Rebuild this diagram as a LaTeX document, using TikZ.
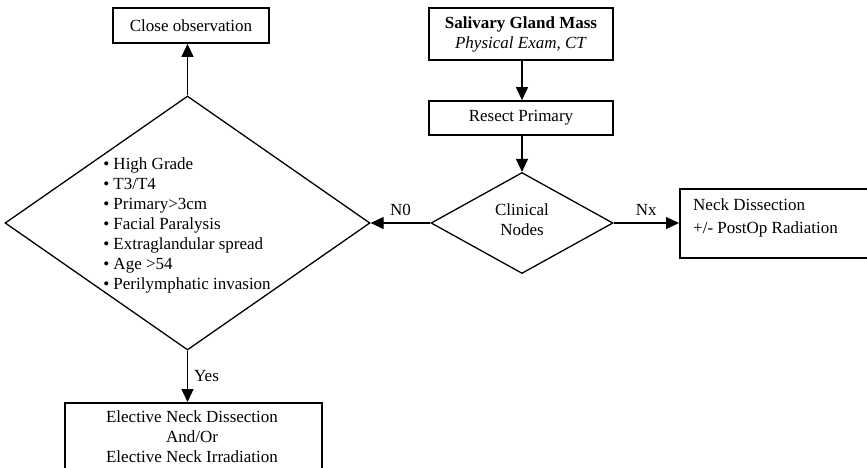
\documentclass[tikz,border=0pt]{standalone}
\usepackage{fontspec}
\setmainfont{Liberation Serif}
\usetikzlibrary{shapes.geometric,arrows.meta}
\begin{document}
\begin{tikzpicture}[x=1pt,y=-1pt,
  every node/.style={font=\fontsize{17}{20}\selectfont},
  box/.style={draw, line width=1.8pt, rectangle, inner sep=0pt, align=center},
  dia/.style={draw, line width=1.3pt, diamond, inner sep=0pt},
  arr/.style={line width=1.3pt, -{Triangle[length=13pt,width=12pt]}},
  lbl/.style={inner sep=0pt}]
\useasboundingbox (0,0) rectangle (867,467);
% boxes
\node[box, minimum width=156, minimum height=35] (close) at (191,25.5) {Close observation};
\node[box, minimum width=184, minimum height=52] (mass) at (521,34) {\textbf{Salivary Gland Mass}\\[0pt]\textit{Physical Exam, CT}};
\node[box, minimum width=184, minimum height=34] (resect) at (521,118) {Resect Primary};
\node[box, minimum width=200, minimum height=69, anchor=north west] (neck) at (679,188) {};
\node[lbl, anchor=west, align=left, font=\fontsize{17}{23}\selectfont] (necktxt) at (693,218) {Neck Dissection\\+/- PostOp Radiation};
\node[box, minimum width=257, minimum height=80, anchor=north west] (elect) at (64,402) {};
\node[lbl, align=center, anchor=north] (electtxt) at (192,410) {Elective Neck Dissection\\And/Or\\Elective Neck Irradiation};
% diamonds
\node[dia, minimum width=182, minimum height=101] (clin) at (522,223) {};
\node[lbl, align=center] (clintxt) at (522,220) {Clinical\\Nodes};
\node[dia, minimum width=365, minimum height=254] (risk) at (187.5,223) {};
\node[lbl, align=left] (risktxt) at (187,225) {\textbullet\ High Grade\\\textbullet\ T3/T4\\\textbullet\ Primary>3cm\\\textbullet\ Facial Paralysis\\\textbullet\ Extraglandular spread\\\textbullet\ Age >54\\\textbullet\ Perilymphatic invasion};
% connectors
\draw[arr] (mass.south -| clin.north) -- (resect.north -| clin.north);
\draw[arr] (resect.south -| clin.north) -- (clin.north);
\draw[arr] (clin.west) -- node[lbl, above=7pt] {N0} (risk.east);
\draw[arr] (clin.east) -- node[lbl, above=7pt] {Nx} (neck.west |- clin.east);
\draw[arr] (risk.north) -- (close.south -| risk.north);
\draw[arr] (risk.south) -- node[lbl, right=6pt] {Yes} (elect.north -| risk.south);
\end{tikzpicture}
\end{document}
